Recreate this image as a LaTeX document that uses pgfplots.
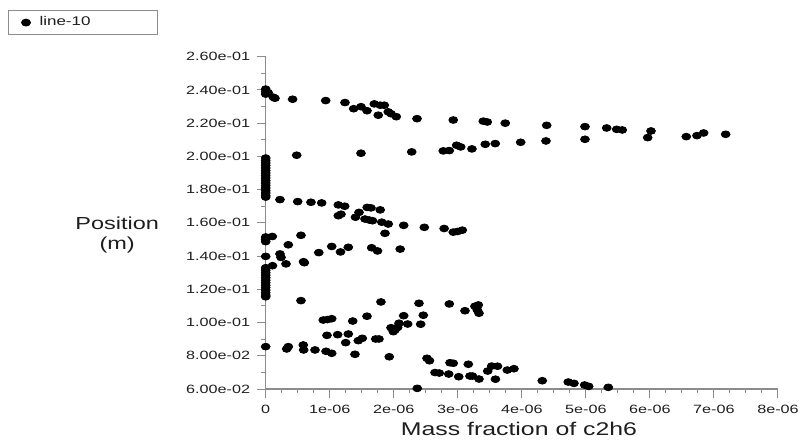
\documentclass[border=0pt]{standalone}
\usepackage{fontspec}
\setmainfont{Liberation Sans}[FakeStretch=1.35]
\usepackage{pgfplots}
\pgfplotsset{compat=1.18}
\definecolor{axisgray}{RGB}{140,140,140}
\definecolor{txt}{RGB}{30,30,30}
\pgfplotstableread{
x y
0 0.2405
0 0.2390
0 0.2375
4e-8 0.2383
1.19e-7 0.2356
1.45e-7 0.2350
0.420e-6 0.2344
0.937e-6 0.2336
1.238e-6 0.2324
1.374e-6 0.2287
1.488e-6 0.2299
1.582e-6 0.2275
1.696e-6 0.2316
1.789e-6 0.2308
1.852e-6 0.2308
1.758e-6 0.2248
1.914e-6 0.2268
1.957e-6 0.2257
2.039e-6 0.2239
2.363e-6 0.2227
2.929e-6 0.2219
3.398e-6 0.2212
3.460e-6 0.2207
3.741e-6 0.2200
4.388e-6 0.2187
4.986e-6 0.2179
5.325e-6 0.2171
5.481e-6 0.2163
5.568e-6 0.2159
6.017e-6 0.2153
5.965e-6 0.2113
6.568e-6 0.2119
6.735e-6 0.2125
6.839e-6 0.2141
7.183e-6 0.2133
0.484e-6 0.2007
1.488e-6 0.2019
2.280e-6 0.2027
2.773e-6 0.2033
2.867e-6 0.2035
2.982e-6 0.2067
3.045e-6 0.2057
3.221e-6 0.2045
3.429e-6 0.2073
3.585e-6 0.2077
3.982e-6 0.2085
4.377e-6 0.2093
4.986e-6 0.2103
0 0.1990
0 0.1975
0 0.1960
0 0.1945
0 0.1930
0 0.1915
0 0.1900
0 0.1885
0 0.1870
0 0.1855
0 0.1840
0 0.1825
0 0.1810
0 0.1795
0 0.1780
0 0.1765
0 0.1755
0.223e-6 0.1740
0.500e-6 0.1728
0.707e-6 0.1724
0.874e-6 0.1720
1.134e-6 0.1708
1.234e-6 0.1700
1.134e-6 0.1643
1.176e-6 0.1652
1.402e-6 0.1634
1.457e-6 0.1663
1.585e-6 0.1693
1.644e-6 0.1690
1.788e-6 0.1678
1.551e-6 0.1623
1.616e-6 0.1617
1.668e-6 0.1613
1.813e-6 0.1604
1.914e-6 0.1593
2.155e-6 0.1585
2.477e-6 0.1573
2.787e-6 0.1566
2.929e-6 0.1544
2.995e-6 0.1548
3.070e-6 0.1556
1.863e-6 0.1537
0 0.1515
0.103e-6 0.1518
0 0.1500
0 0.1487
0.551e-6 0.1525
0.353e-6 0.1468
0 0.1398
0.223e-6 0.1413
0.239e-6 0.1392
0.317e-6 0.1353
0.106e-6 0.1342
0.590e-6 0.1366
0.603e-6 0.1360
0.829e-6 0.1421
1.031e-6 0.1458
1.168e-6 0.1425
1.290e-6 0.1453
1.655e-6 0.1450
1.746e-6 0.1431
2.100e-6 0.1442
0 0.1330
0 0.1315
0 0.1300
0 0.1285
0 0.1270
0 0.1255
0 0.1240
0 0.1225
0 0.1210
0 0.1195
0 0.1180
0 0.1165
0 0.1155
0.551e-6 0.1132
1.800e-6 0.1124
2.394e-6 0.1116
2.867e-6 0.1112
3.112e-6 0.1071
3.268e-6 0.1098
3.320e-6 0.1106
3.304e-6 0.1076
3.331e-6 0.1056
0.899e-6 0.1015
0.965e-6 0.1018
1.031e-6 0.1023
1.359e-6 0.1009
1.582e-6 0.1038
2.155e-6 0.1041
2.461e-6 0.1044
2.420e-6 0.0990
1.957e-6 0.0969
2.019e-6 0.0955
2.082e-6 0.0996
2.061e-6 0.0971
2.217e-6 0.0991
1.993e-6 0.0945
0.957e-6 0.0923
1.124e-6 0.0927
1.290e-6 0.0931
1.249e-6 0.0879
1.446e-6 0.0891
1.508e-6 0.0905
1.718e-6 0.0901
1.769e-6 0.0901
0 0.0855
0.328e-6 0.0841
0.353e-6 0.0855
0.587e-6 0.0865
0.593e-6 0.0835
0.770e-6 0.0835
0.942e-6 0.0827
1.031e-6 0.0815
1.394e-6 0.0809
1.930e-6 0.0794
2.519e-6 0.0785
2.558e-6 0.0770
2.644e-6 0.0699
2.711e-6 0.0696
2.858e-6 0.0690
2.878e-6 0.0758
2.929e-6 0.0755
3.014e-6 0.0674
3.164e-6 0.0749
3.190e-6 0.0678
3.229e-6 0.0678
3.331e-6 0.0660
3.467e-6 0.0708
3.529e-6 0.0738
3.620e-6 0.0737
3.588e-6 0.0659
3.773e-6 0.0714
3.877e-6 0.0722
4.319e-6 0.0650
4.725e-6 0.0642
4.814e-6 0.0634
4.981e-6 0.0624
5.044e-6 0.0616
5.350e-6 0.0610
2.367e-6 0.0604
}\linedata
\begin{document}
\begin{tikzpicture}
\useasboundingbox (0,0) rectangle (400pt,223pt);
\begin{axis}[
  at={(132.85pt,28.5pt)}, anchor=south west,
  scale only axis, width=256.15pt, height=166.15pt,
  xmin=0, xmax=8e-6, ymin=0.06, ymax=0.26,
  axis x line=bottom, axis y line=left,
  axis line style={-, draw=axisgray, line width=0.7pt},
  clip=false,
  scaled x ticks=false, scaled y ticks=false,
  xtick={0,1e-6,2e-6,3e-6,4e-6,5e-6,6e-6,7e-6,8e-6},
  xticklabels={0,1e-06,2e-06,3e-06,4e-06,5e-06,6e-06,7e-06,8e-06},
  ytick={0.06,0.08,0.10,0.12,0.14,0.16,0.18,0.20,0.22,0.24,0.26},
  yticklabels={6.00e-02,8.00e-02,1.00e-01,1.20e-01,1.40e-01,1.60e-01,1.80e-01,2.00e-01,2.20e-01,2.40e-01,2.60e-01},
  minor x tick num=3, minor y tick num=1,
  tick align=outside,
  major tick length=4.3pt, minor tick length=2.2pt,
  tick style={draw=axisgray, line width=0.5pt},
  ticklabel style={font=\fontsize{6}{7}\selectfont, text=txt},
  xlabel={Mass fraction of c2h6},
  ylabel={Position\\(m)},
  every axis x label/.style={at={(axis description cs:0.4944,-0.1204)}, anchor=center, font=\fontsize{9.2}{10}\selectfont, text=txt},
  every axis y label/.style={at={(axis description cs:-0.290,0.4634)}, anchor=center, align=center, font=\fontsize{8.7}{10}\selectfont, text=txt},
  legend style={at={(axis description cs:-0.503,1.1405)}, anchor=north west, draw=axisgray, line width=0.5pt, font=\fontsize{6.3}{7}\selectfont, text=txt, inner xsep=2pt, inner ysep=1pt},
  legend cell align=left,
  legend image code/.code={\path (0pt,0pt) (11pt,0pt); \draw[#1] plot coordinates {(6.5pt,0pt)};},
]
\addplot[only marks, mark=*, mark size=1.7pt, mark options={xscale=1.3, fill=black, draw=black}] table[x=x,y=y] {\linedata};
\addlegendentry{\makebox[55pt][l]{line-10}}
\end{axis}
\end{tikzpicture}
\end{document}
